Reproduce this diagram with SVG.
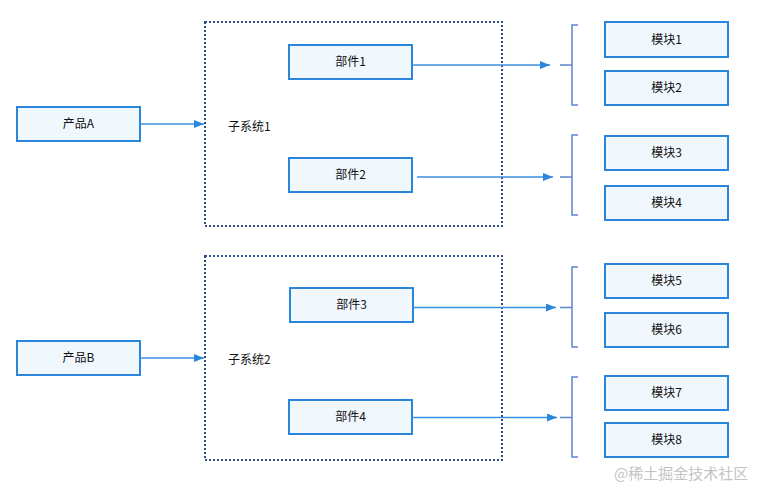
<svg xmlns="http://www.w3.org/2000/svg" width="762" height="489" viewBox="0 0 762 489">
<defs>
<marker id="arr" markerWidth="10" markerHeight="8" refX="10" refY="4" orient="auto" markerUnits="userSpaceOnUse">
<path d="M0,0 L10,4 L0,8 Z" fill="#2a86da"/>
</marker>
<style>
.box{fill:#f0f8fe;stroke:#2a86da;stroke-width:2}
.grp{fill:none;stroke:#2f4a8a;stroke-width:2;stroke-dasharray:2 2}
.lbl{font-family:"Noto Sans CJK SC","Liberation Sans",sans-serif;font-size:12px;fill:#111;text-anchor:middle;dominant-baseline:central}
.glbl{font-family:"Noto Sans CJK SC","Liberation Sans",sans-serif;font-size:12px;fill:#111;dominant-baseline:central}
.ln{fill:none;stroke:#3b8fe0;stroke-width:1.5}
.br{fill:none;stroke:#5a86cf;stroke-width:1.5}
.wm{font-family:"Noto Sans CJK SC","Liberation Sans",sans-serif;font-size:15px;fill:#c4c4c4}
</style>
</defs>
<rect width="762" height="489" fill="#ffffff"/>

<g id="subsystem1">
<rect class="grp" x="205" y="22" width="297" height="204"/>
<text class="glbl" x="228" y="125.5">子系统1</text>
</g>
<g id="subsystem2">
<rect class="grp" x="205" y="256" width="297" height="204"/>
<text class="glbl" x="228" y="358.5">子系统2</text>
</g>

<g id="productA"><rect class="box" x="17" y="107" width="123" height="34"/><text class="lbl" x="78.5" y="122.5">产品A</text></g>
<g id="productB"><rect class="box" x="17" y="341" width="123" height="34"/><text class="lbl" x="78.5" y="356.5">产品B</text></g>

<g id="part1"><rect class="box" x="289" y="45" width="123" height="34"/><text class="lbl" x="350.5" y="60.5">部件1</text></g>
<g id="part2"><rect class="box" x="289" y="158" width="123" height="34"/><text class="lbl" x="350.5" y="173.5">部件2</text></g>
<g id="part3"><rect class="box" x="290" y="288" width="123" height="34"/><text class="lbl" x="351.5" y="303.5">部件3</text></g>
<g id="part4"><rect class="box" x="289" y="400" width="123" height="34"/><text class="lbl" x="350.5" y="415.5">部件4</text></g>

<g id="module1"><rect class="box" x="605" y="22" width="123" height="35"/><text class="lbl" x="666.5" y="38">模块1</text></g>
<g id="module2"><rect class="box" x="605" y="71" width="123" height="34"/><text class="lbl" x="666.5" y="86.5">模块2</text></g>
<g id="module3"><rect class="box" x="605" y="136" width="123" height="34"/><text class="lbl" x="666.5" y="151.5">模块3</text></g>
<g id="module4"><rect class="box" x="605" y="186" width="123" height="34"/><text class="lbl" x="666.5" y="201.5">模块4</text></g>
<g id="module5"><rect class="box" x="605" y="264" width="123" height="34"/><text class="lbl" x="666.5" y="279.5">模块5</text></g>
<g id="module6"><rect class="box" x="605" y="313" width="123" height="34"/><text class="lbl" x="666.5" y="328.5">模块6</text></g>
<g id="module7"><rect class="box" x="605" y="376" width="123" height="34"/><text class="lbl" x="666.5" y="391.5">模块7</text></g>
<g id="module8"><rect class="box" x="605" y="423" width="123" height="34"/><text class="lbl" x="666.5" y="438.5">模块8</text></g>

<g id="brace1"><path class="br" d="M578,25 H572 V105 H578 M560,65 H572"/></g>
<g id="brace2"><path class="br" d="M578,135 H572 V215 H578 M560,177 H572"/></g>
<g id="brace3"><path class="br" d="M578,267 H572 V347 H578 M560,307.5 H572"/></g>
<g id="brace4"><path class="br" d="M578,377 H572 V457 H578 M560,417.5 H572"/></g>

<g id="connectors">
<line class="ln" x1="140" y1="124" x2="204" y2="124" marker-end="url(#arr)"/>
<line class="ln" x1="140" y1="358" x2="204" y2="358" marker-end="url(#arr)"/>
<line class="ln" x1="412" y1="65" x2="550" y2="65" marker-end="url(#arr)"/>
<line class="ln" x1="417" y1="177" x2="553" y2="177" marker-end="url(#arr)"/>
<line class="ln" x1="413" y1="307.5" x2="556" y2="307.5" marker-end="url(#arr)"/>
<line class="ln" x1="412" y1="417.5" x2="557" y2="417.5" marker-end="url(#arr)"/>
</g>

<text class="wm" x="614" y="479">@稀土掘金技术社区</text>
</svg>
